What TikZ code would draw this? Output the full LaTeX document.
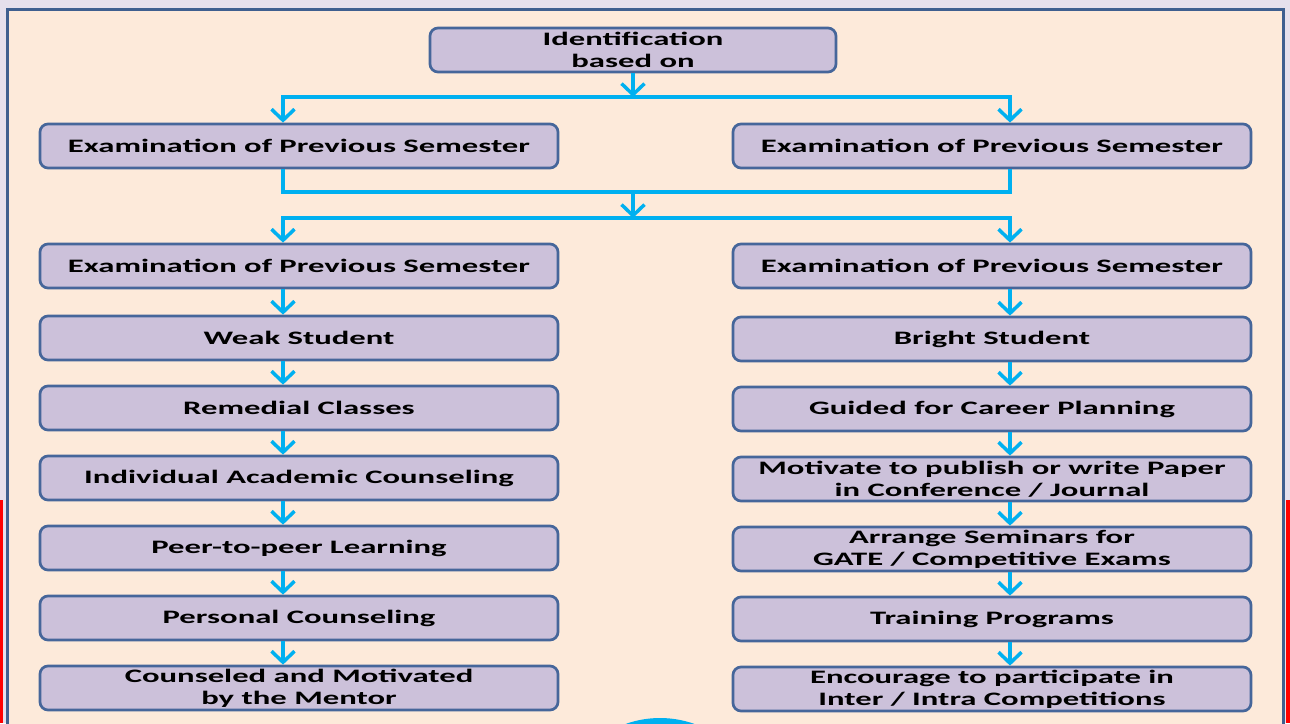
\documentclass[tikz,border=0pt]{standalone}
\usepackage{fontspec}
\setmainfont{Carlito}[FakeStretch=1.72]
\usetikzlibrary{arrows.meta}
\definecolor{pagebg}{HTML}{E6E0EC}
\definecolor{panelbg}{HTML}{FDEADA}
\definecolor{panelline}{HTML}{3F5F8F}
\definecolor{boxfill}{HTML}{CCC1DA}
\definecolor{boxline}{HTML}{46669A}
\definecolor{flow}{HTML}{00B0F0}
\tikzset{
  stepbox/.style={draw=boxline, line width=2.7pt, fill=boxfill, rounded corners=8pt,
    minimum width=518pt, minimum height=44pt, inner sep=0pt, align=center,
    font=\fontsize{19}{22}\selectfont\bfseries},
  flowline/.style={draw=flow, line width=3.5pt},
  flowarrow/.style={flowline, -{Straight Barb[length=11pt,width=23pt]}}
}
\begin{document}
\begin{tikzpicture}[x=1pt,y=-1pt]
    \useasboundingbox (0,0) rectangle (1290,723);
    \clip (0,0) rectangle (1290,723);
    \fill[pagebg] (0,0) rectangle (1290,723);
    \fill[red] (0,500) rectangle (3,723);
    \fill[red] (1286,500) rectangle (1290,723);
    \filldraw[fill=panelbg, draw=panelline, line width=3pt] (7.5,9.3) rectangle (1283.5,740);
    \fill[flow] (660,820) circle (102);

    \node[stepbox, minimum width=406pt] (top) at (633,50) {Identification\\based on};
    \foreach \t [count=\i] in {Examination of Previous Semester, Examination of Previous Semester,
        Weak Student, Remedial Classes, Individual Academic Counseling, Peer-to-peer Learning,
        Personal Counseling, {Counseled and Motivated\\by the Mentor}} {
        \pgfmathsetmacro\y{ifthenelse(\i<3,26+120*\i,128+70*\i)}
        \node[stepbox] (l\i) at (299,\y) {\t};
    }
    \foreach \t [count=\i] in {Examination of Previous Semester, Examination of Previous Semester,
        Bright Student, Guided for Career Planning, {Motivate to publish or write Paper\\in Conference / Journal},
        {Arrange Seminars for\\GATE / Competitive Exams}, Training Programs,
        {Encourage to participate in\\Inter / Intra Competitions}} {
        \pgfmathsetmacro\y{ifthenelse(\i<3,26+120*\i,129+70*\i)}
        \node[stepbox] (r\i) at (992,\y) {\t};
    }

    \coordinate (lx) at (283,0);
    \coordinate (rx) at (1010,0);
    \coordinate (split) at (633,97);
    \coordinate (merge) at (633,192);
    \coordinate (split2) at (633,218);

    \draw[flowarrow] (top) -- (split);
    \draw[flowarrow] (split) -| (l1.north -| lx);
    \draw[flowarrow] (split) -| (r1.north -| rx);
    \draw[flowline] (l1.south -| lx) |- (merge -| rx) -- (r1.south -| rx);
    \draw[flowarrow] (merge) -- (split2);
    \draw[flowarrow] (split2) -| (l2.north -| lx);
    \draw[flowarrow] (split2) -| (r2.north -| rx);
    \foreach \i [evaluate=\i as \j using int(\i+1)] in {2,...,7} {
        \draw[flowarrow] (l\i.south -| lx) -- (l\j.north -| lx);
        \draw[flowarrow] (r\i.south -| rx) -- (r\j.north -| rx);
    }
\end{tikzpicture}
\end{document}
